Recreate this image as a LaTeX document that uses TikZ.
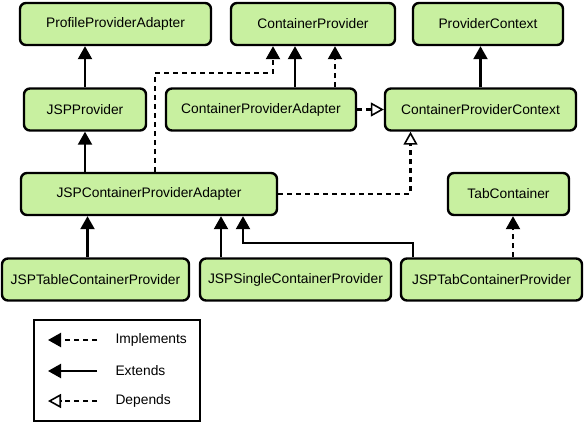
\documentclass[tikz,border=0pt]{standalone}
\usepackage{fontspec}
\setmainfont{Liberation Sans}
\usetikzlibrary{arrows.meta}
\definecolor{boxgreen}{RGB}{200,240,160}
\tikzset{class box/.style={draw, line width=2.4pt, rounded corners=6pt, fill=boxgreen,
    minimum height=42pt, inner sep=0pt, font=\fontsize{13.8}{16}\selectfont},
  extends it/.style={-{Triangle[length=13pt,width=14pt]}, line width=2.2pt},
  implements it/.style={extends it, dash pattern=on 5pt off 4pt},
  depends it/.style={-{Triangle[open,fill=white,length=13pt,width=14pt,line width=1.6pt]},
    line width=2.2pt, dash pattern=on 5pt off 4pt}}

\begin{document}
\begin{tikzpicture}[x=1pt,y=1pt]
\useasboundingbox (0,0) rectangle (586,-423);
\node [class box, minimum width=191pt] (ppa) at (115.5,-24) {ProfileProviderAdapter};
\node [class box, minimum width=164pt] (cp) at (313,-24) {ContainerProvider};
\node [class box, minimum width=150pt] (pc) at (488,-24) {ProviderContext};
\node [class box, minimum width=122pt] (jspp) at (85,-109.5) {JSPProvider};
\node [class box, minimum width=190pt] (cpa) at (261,-109.5) {ContainerProviderAdapter};
\node [class box, minimum width=191pt] (cpc) at (480.5,-109.5) {ContainerProviderContext};
\node [class box, minimum width=256pt] (jspcpa) at (149,-194) {JSPContainerProviderAdapter};
\node [class box, minimum width=121pt] (tabc) at (508.5,-194) {TabContainer};
\node [class box, minimum width=187pt] (jsptable) at (95.5,-279.5) {JSPTableContainerProvider};
\node [class box, minimum width=191pt] (jspsingle) at (295.5,-279.5) {JSPSingleContainerProvider};
\node [class box, minimum width=181pt] (jsptab) at (491.5,-279.5) {JSPTabContainerProvider};

\draw [extends it] (jspp.north) -- (jspp.north |- ppa.south);
\draw [extends it] (jspcpa.north -| jspp) -- (jspp.south);
\draw [implements it] ([xshift=6pt]jspcpa.north) |- (200,-73) -| ([xshift=-40pt]cp.south);
\draw [extends it] ([xshift=34pt]cpa.north) -- ([xshift=34pt]cpa.north |- cp.south);
\draw [implements it] ([xshift=74pt]cpa.north) -- ([xshift=74pt]cpa.north |- cp.south);
\draw [extends it] (cpc.north) -- (cpc.north |- pc.south);
\draw [depends it] (cpa.east) -- (cpc.west);
\draw [depends it] (jspcpa.east) -| ([xshift=-70pt]cpc.south);
\draw [extends it] ([xshift=-8pt]jsptable.north) -- ([xshift=-8pt]jsptable.north |- jspcpa.south);
\draw [extends it] ([xshift=-74.5pt]jspsingle.north) -- ([xshift=-74.5pt]jspsingle.north |- jspcpa.south);
\draw [extends it] ([xshift=-78.5pt]jsptab.north) |- (300,-243) -| ([xshift=94pt]jspcpa.south);
\draw [implements it] ([xshift=21.5pt]jsptab.north) -- ([xshift=21.5pt]jsptab.north |- tabc.south);

% legend
\draw [line width=2pt] (34,-320) rectangle (200,-421);
\coordinate (l1) at (97,-340);
\coordinate (l2) at (97,-371);
\coordinate (l3) at (97,-401);
\draw [implements it] (l1) -- +(-49,0);
\draw [extends it] (l2) -- +(-49,0);
\draw [depends it] (l3) -- +(-49,0);
\node [right, font=\fontsize{13.8}{16}\selectfont] at (112,-340) {Implements};
\node [right, font=\fontsize{13.8}{16}\selectfont] at (112,-371) {Extends};
\node [right, font=\fontsize{13.8}{16}\selectfont] at (112,-401) {Depends};
\end{tikzpicture}
\end{document}
